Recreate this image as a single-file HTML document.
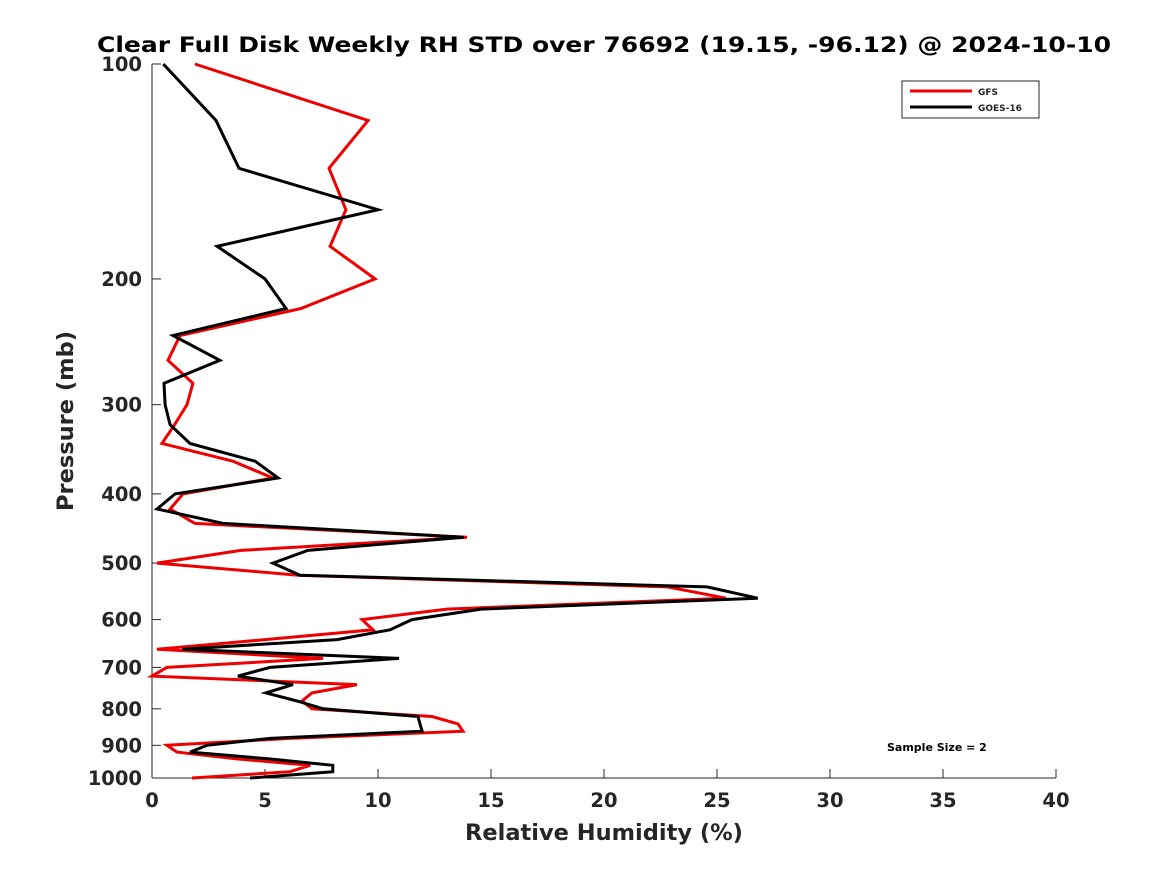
<!DOCTYPE html>
<html><head><meta charset="utf-8"><style>
body{margin:0;background:#fff;}
svg text{font-family:"DejaVu Sans","Liberation Sans",sans-serif;font-weight:bold;fill:#262626;}
</style></head><body>
<svg id="chart" width="1167" height="875" viewBox="0 0 1167 875" xmlns="http://www.w3.org/2000/svg">
<rect width="1167" height="875" fill="#fff"/>
<text x="604" y="52" text-anchor="middle" font-size="21" textLength="1014" lengthAdjust="spacingAndGlyphs" style="fill:#000">Clear Full Disk Weekly RH STD over 76692 (19.15, -96.12) @ 2024-10-10</text>
<g id="axes"></g>
<g id="series"></g>
<text x="604" y="840" text-anchor="middle" font-size="22.5">Relative Humidity (%)</text>
<text transform="translate(73,421) rotate(-90)" text-anchor="middle" font-size="22.5">Pressure (mb)</text>
<g>
<rect x="902" y="81" width="137" height="37" fill="#fff" stroke="#262626" stroke-width="1"/>
<line x1="910" y1="91" x2="972" y2="91" stroke="#e00" stroke-width="3"/>
<text x="978" y="95" font-size="9">GFS</text>
<line x1="910" y1="107" x2="972" y2="107" stroke="#000" stroke-width="3"/>
<text x="978" y="111" font-size="9">GOES-16</text>
</g>
<text x="887" y="751" font-size="11" style="fill:#000">Sample Size = 2</text>
</svg>
<script>
const levels=[100,120,140,160,180,200,220,240,260,280,300,320,340,360,380,400,420,440,460,480,500,520,540,560,580,600,620,640,660,680,700,720,740,760,780,800,820,840,860,880,900,920,940,960,980,1000];
const gfsValues=[1.9,9.56,7.83,8.58,7.88,9.87,6.59,1.24,0.71,1.81,1.55,1.0,0.44,3.58,5.35,1.37,0.8,1.9,13.94,3.94,0.22,6.46,22.8,25.4,13.05,9.29,9.78,5.0,0.22,7.57,0.66,0,9.07,7.08,6.64,7.08,12.39,13.54,13.76,6.1,0.66,1.1,3.7,7.0,6.1,1.77];
const goesValues=[0.5,2.83,3.85,10.0,2.88,5.0,5.93,0.93,3.0,0.53,0.58,0.8,1.68,4.56,5.58,1.02,0.22,3.14,13.8,6.9,5.35,6.55,24.56,26.8,14.56,11.5,10.53,8.19,1.33,10.93,5.22,3.8,6.24,5.04,6.42,7.57,11.77,11.86,11.95,5.22,2.43,1.68,5.13,8.0,8.0,4.34];
const xTicks=[0,5,10,15,20,25,30,35,40];
const yTicks=[100,200,300,400,500,600,700,800,900,1000];
const NS="http://www.w3.org/2000/svg";
const X0=152,X1=1056,Y0=64,Y1=778;
function xs(v){return X0+(v-0)/(40-0)*(X1-X0);}
function ys(p){return Y0+Math.log10(p/100)*(Y1-Y0);}
function mk(tag,attrs,parent){const e=document.createElementNS(NS,tag);for(const k in attrs)e.setAttribute(k,attrs[k]);parent.appendChild(e);return e;}
const axes=document.getElementById('axes');
const xa=mk('line',{x1:X0,y1:Y1,x2:X1,y2:Y1,stroke:'#262626','stroke-width':1},axes);


const ya=mk('line',{x1:X0,y1:Y0,x2:X0,y2:Y1,stroke:'#262626','stroke-width':1},axes);


xTicks.forEach(t=>{const x=xs(t);
 mk('line',{x1:x,y1:Y1,x2:x,y2:Y1-9,stroke:'#262626'},axes);
 const tx=mk('text',{x:x,y:Y1+29,'text-anchor':'middle','font-size':19.5},axes);tx.textContent=t;
 
 
});
yTicks.forEach(t=>{const y=ys(t);
 mk('line',{x1:X0,y1:y,x2:X0+9,y2:y,stroke:'#262626'},axes);
 const tx=mk('text',{x:X0-10,y:y+7,'text-anchor':'end','font-size':19.5},axes);tx.textContent=t;
 
 
});
const series=document.getElementById('series');
function line(vals,color,name){
 const pts=vals.map((v,i)=>xs(v).toFixed(1)+','+ys(levels[i]).toFixed(1)).join(' ');
 const pl=mk('polyline',{points:pts,fill:'none',stroke:color,'stroke-width':3,'stroke-linejoin':'miter'},series);
 
 
}
line(gfsValues,'#e00','gfs-line');
line(goesValues,'#000','goes16-line');
</script>
</body></html>
